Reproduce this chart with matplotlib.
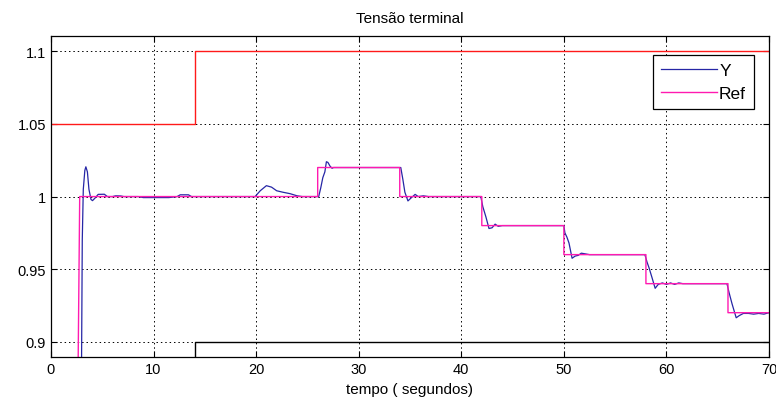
import matplotlib
matplotlib.use("Agg")
import matplotlib.pyplot as plt

plt.rcParams['font.family'] = ['Liberation Sans', 'DejaVu Sans']

# limites
upper_t = [0, 14, 14, 70]
upper_v = [1.05, 1.05, 1.1, 1.1]
lower_t = [0, 14, 14, 70]
lower_v = [0.85, 0.85, 0.9, 0.9]

# referencia
ref_t = [0, 2.6, 2.8, 26, 26, 34, 34, 42, 42, 50, 50, 58, 58, 66, 66, 70]
ref_v = [0.85, 0.85, 1.0, 1.0, 1.02, 1.02, 1.0, 1.0, 0.98, 0.98, 0.96, 0.96,
         0.94, 0.94, 0.92, 0.92]

# resposta Y
y_t = [0, 2.95, 3.05, 3.15, 3.3, 3.4, 3.55, 3.7, 3.9, 4.05, 4.3, 4.6, 5.2, 5.5,
       6.0, 6.3, 6.8, 7.1, 8.5, 9.0, 11.5, 12.3, 12.6, 13.4, 13.7, 19.9, 20.4,
       21.0, 21.5, 22.0, 22.6, 23.3, 24.0, 24.5, 26.1, 26.3, 26.5, 26.7, 26.85,
       27.0, 27.2, 27.4, 27.55, 34.1, 34.3, 34.5, 34.8, 35.1, 35.5, 35.8, 36.3,
       36.8, 41.9, 42.1, 42.4, 42.7, 43.0, 43.3, 43.6, 44.0, 50.0, 50.1, 50.3,
       50.5, 50.8, 51.1, 51.4, 51.7, 52.1, 52.5, 57.9, 58.1, 58.3, 58.6, 58.9,
       59.2, 59.6, 60.0, 60.4, 60.8, 61.2, 61.6, 65.9, 66.1, 66.4, 66.8, 67.1,
       67.5, 68.0, 68.5, 69.0, 69.5, 70.0]
y_v = [0.85, 0.85, 0.97, 1.005, 1.018, 1.0205, 1.017, 1.005, 0.998, 0.9972,
       0.999, 1.0015, 1.0016, 1.0, 1.0, 1.0005, 1.0004, 1.0, 1.0, 0.9993, 0.9993,
       1.0, 1.0012, 1.0012, 1.0, 1.0, 1.004, 1.0075, 1.0065, 1.004, 1.003, 1.002,
       1.0005, 1.0, 1.0, 1.006, 1.013, 1.017, 1.024, 1.0235, 1.021, 1.0195, 1.02,
       1.02, 1.012, 1.003, 0.997, 0.999, 1.0015, 1.0, 1.0005, 1.0, 1.0, 0.993,
       0.986, 0.978, 0.9785, 0.981, 0.9795, 0.98, 0.98, 0.975, 0.972, 0.968,
       0.9575, 0.959, 0.9595, 0.961, 0.9605, 0.96, 0.96, 0.955, 0.951, 0.944,
       0.9368, 0.9395, 0.9405, 0.9395, 0.9405, 0.9395, 0.9405, 0.94, 0.94, 0.934,
       0.926, 0.9165, 0.918, 0.9195, 0.9195, 0.919, 0.9195, 0.919, 0.92]

fig = plt.figure(figsize=(7.76, 4.14), dpi=100)
ax = fig.add_axes([0.0657, 0.135, 0.9253, 0.7756])

ax.plot(upper_t, upper_v, color='#ff1a1a', lw=1.0)
ax.plot(lower_t, lower_v, color='black', lw=1.0)
ax.plot(y_t, y_v, color='#2626a6', lw=0.9, label='Y')
ax.plot(ref_t, ref_v, color='#ff1ab0', lw=1.0, label='Ref')

ax.set_xlim(0, 70)
ax.set_ylim(0.8894, 1.1106)
ax.set_xticks([0, 10, 20, 30, 40, 50, 60, 70])
ax.set_yticks([0.9, 0.95, 1.0, 1.05, 1.1])
ax.set_yticklabels(['0.9', '0.95', '1', '1.05', '1.1'])
ax.grid(True, color='black', linestyle=(0, (1.5, 3)), lw=0.7)
ax.tick_params(direction='in', top=True, right=True, labelsize=10.5, length=4)
for s in ax.spines.values():
    s.set_linewidth(0.9)

ax.set_title('Tensão terminal', fontsize=11, pad=10)
ax.set_xlabel('tempo ( segundos)', fontsize=11)

leg = ax.legend(loc='upper right', bbox_to_anchor=(0.979, 0.942), fontsize=12.5,
                fancybox=False, framealpha=1, edgecolor='black',
                handlelength=3.2, borderpad=0.45, handletextpad=0.15,
                labelspacing=0.5, borderaxespad=0)
leg.get_frame().set_linewidth(0.9)

fig.savefig('out.png', dpi=100)
